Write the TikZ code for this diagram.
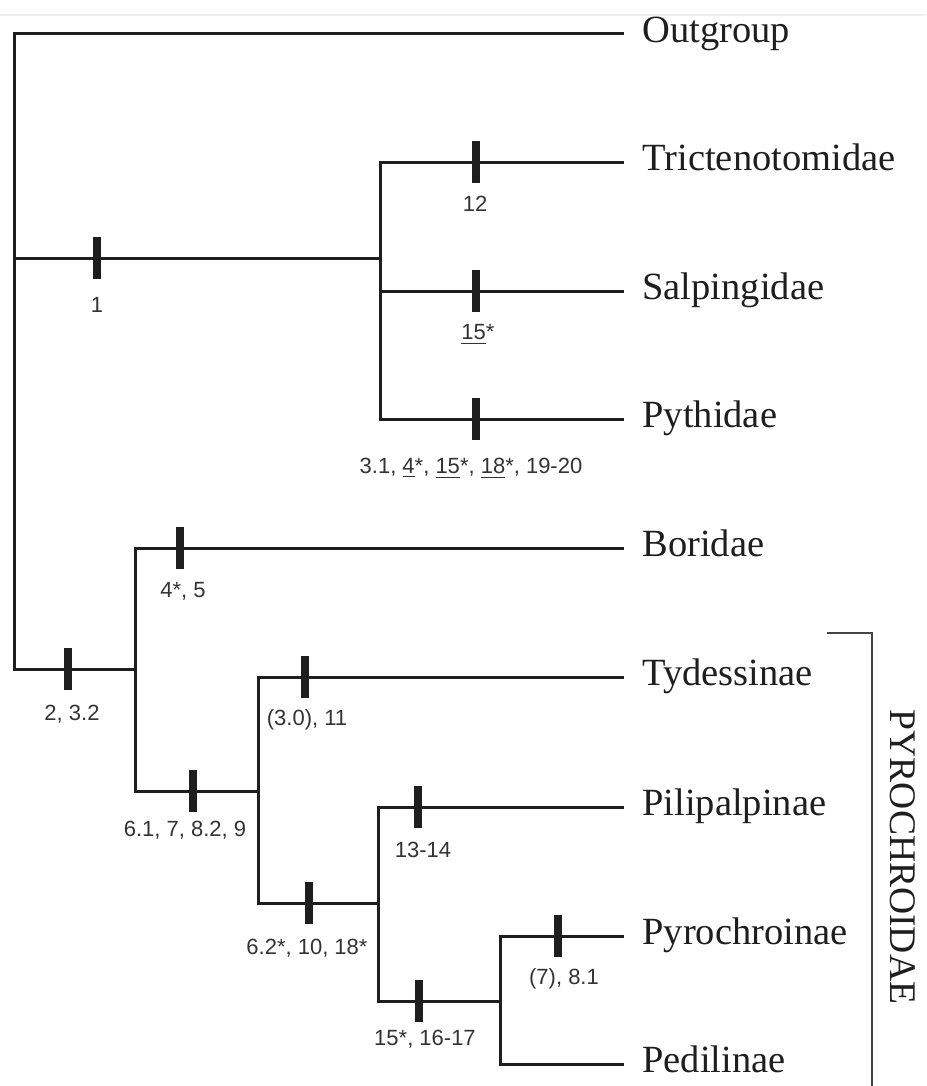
\documentclass[tikz,border=0pt]{standalone}
\usepackage{fontspec}
\setmainfont{Liberation Serif}
\newfontfamily\lsans{Liberation Sans}
\definecolor{ink}{HTML}{1E1E1E}
\definecolor{lab}{HTML}{333333}
\definecolor{brk}{HTML}{444444}
\begin{document}
\begin{tikzpicture}[x=0.5pt,y=-0.5pt,
  branch/.style={draw=ink,line width=1.5pt,line join=miter},
  leaf/.style={anchor=west,inner xsep=9pt,inner ysep=0pt,text=ink,
    font=\fontsize{19.25}{23}\selectfont,text height=13.1pt,text depth=4.2pt},
  barmark/.style={rectangle,fill=ink,draw=none,inner sep=0pt,
    minimum width=4pt,minimum height=21pt},
  chars/.style={inner sep=0pt,text=lab,font=\lsans\fontsize{11}{13}\selectfont,
    text height=7.9pt,text depth=0pt},
  bracket/.style={draw=brk,line width=1pt},
  grouplab/.style={rotate=-90,inner sep=0pt,text=ink,
    font=\fontsize{18.8}{22}\selectfont,text height=12.4pt,text depth=0pt}
]
\useasboundingbox (0,0) rectangle (926,1086);
\draw[gray!12,line width=0.6pt] (0,15) -- (926,15);

% leaves
\node[leaf] (out) at (624,34)   {Outgroup};
\node[leaf] (tri) at (624,162)  {Trictenotomidae};
\node[leaf] (sal) at (624,291)  {Salpingidae};
\node[leaf] (pyt) at (624,419)  {Pythidae};
\node[leaf] (bor) at (624,548)  {Boridae};
\node[leaf] (tyd) at (624,677)  {Tydessinae};
\node[leaf] (pil) at (624,807)  {Pilipalpinae};
\node[leaf] (pyr) at (624,936)  {Pyrochroinae};
\node[leaf] (ped) at (624,1064) {Pedilinae};

% internal nodes
\coordinate (n0) at (14,258);
\coordinate (nA) at (380,258);
\coordinate (nB) at (135,669);
\coordinate (nC) at (258,791);
\coordinate (nD) at (378,903);
\coordinate (nE) at (500,1001);

% branches
\draw[branch] (out.west) -| (n0) |- (nB);
\draw[branch] (n0) -- (nA);
\draw[branch] (tri.west) -| (nA) |- (pyt.west);
\draw[branch] (nA) |- (sal.west);
\draw[branch] (bor.west) -| (nB) |- (nC);
\draw[branch] (tyd.west) -| (nC) |- (nD);
\draw[branch] (pil.west) -| (nD) |- (nE);
\draw[branch] (pyr.west) -| (nE) |- (ped.west);

% character bars
\node[barmark] (m1)  at (97,258)  {};
\node[barmark] (m12) at (476,162) {};
\node[barmark] (m15) at (476,291) {};
\node[barmark] (mpy) at (476,419) {};
\node[barmark] (m45) at (180,548) {};
\node[barmark] (m23) at (68,669)  {};
\node[barmark] (m61) at (193,791) {};
\node[barmark] (m30) at (305,677) {};
\node[barmark] (m62) at (309,903) {};
\node[barmark] (m13) at (418,807) {};
\node[barmark] (m16) at (419,1001) {};
\node[barmark] (m81) at (558,936) {};

% character labels
\node[chars] (l1)  at (97,305)  {1};
\node[chars] (l12) at (475,204) {12};
\node[chars] (l15) at (478,332) {\underline{15}*};
\node[chars] (lpy) at (471,466) {3.1, \underline{4}*, \underline{15}*, \underline{18}*, 19-20};
\node[chars] (l45) at (183,590) {4*, 5};
\node[chars] (l23) at (72,713)  {2, 3.2};
\node[chars] (l61) at (185,829) {6.1, 7, 8.2, 9};
\node[chars] (l30) at (307,718) {(3.0), 11};
\node[chars] (l62) at (307,947) {6.2*, 10, 18*};
\node[chars] (l13) at (423,850) {13-14};
\node[chars] (l16) at (425,1038) {15*, 16-17};
\node[chars] (l81) at (564,977) {(7), 8.1};

% group bracket
\coordinate (bt) at (827,633);
\coordinate (bb) at (872,1086);
\draw[bracket] (bt) -| (bb);
\node[grouplab] (pyro) at (903,857) {PYROCHROIDAE};
\end{tikzpicture}
\end{document}
